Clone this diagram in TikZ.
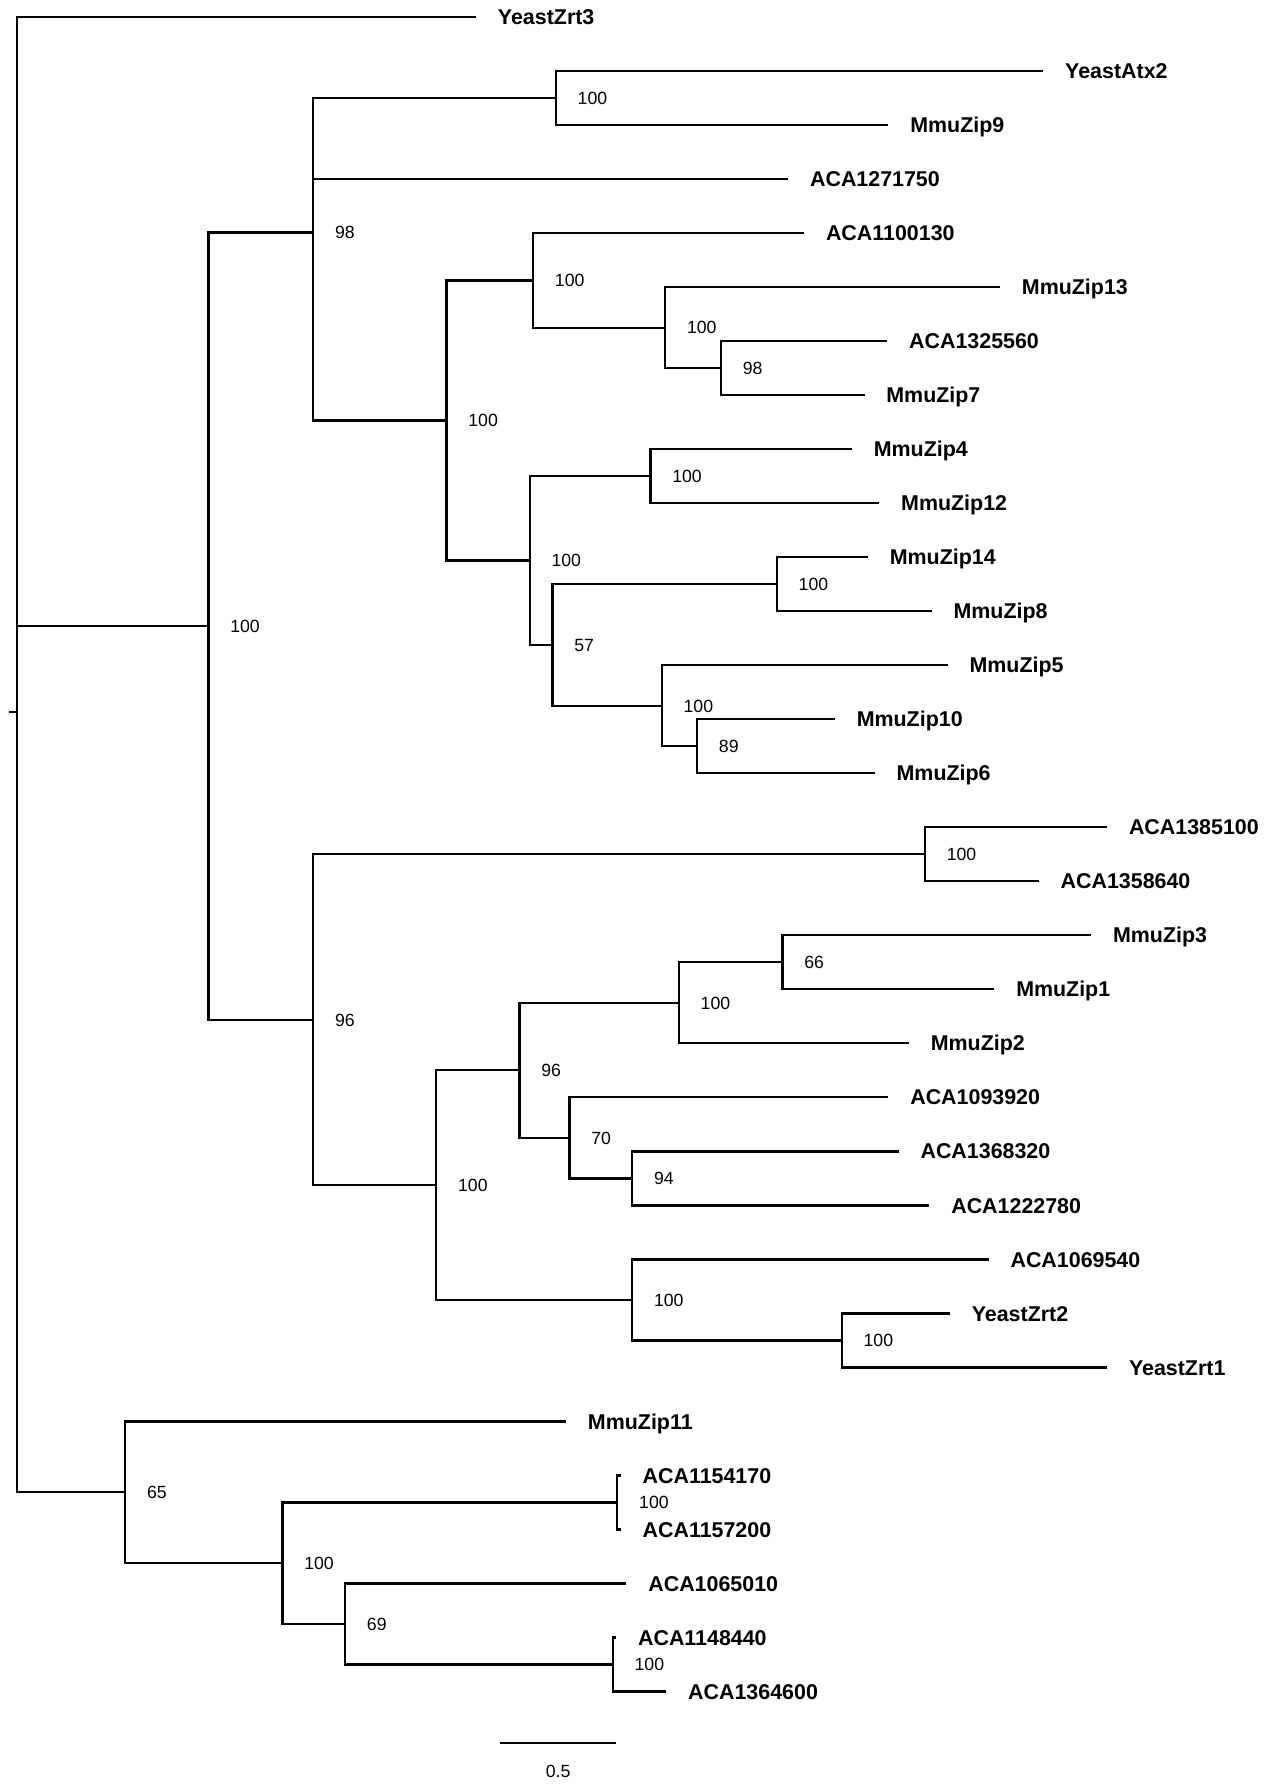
\documentclass[tikz,border=0pt]{standalone}
\usepackage{fontspec}
\setmainfont{Liberation Sans}

\tikzset{
  leaf/.style={anchor=west, inner xsep=19pt, inner ysep=0pt, text height=13.4pt, text depth=0pt,
    font=\bfseries\fontsize{18.8}{20}\selectfont},
  boot/.style={anchor=west, inner xsep=19pt, inner ysep=0pt, text height=11.1pt, text depth=0pt,
    font=\fontsize{15.5}{17}\selectfont},
  branch/.style={line width=2pt}
}

\begin{document}
\begin{tikzpicture}[x=1pt, y=-47.42pt]
\useasboundingbox (0,-0.3163) rectangle (1113,32.75);

% leaves
\node[leaf] (zrt3) at (418,0) {YeastZrt3};
\node[leaf] (atx2) at (916,1) {YeastAtx2};
\node[leaf] (zip9) at (780,2) {MmuZip9};
\node[leaf] (aca1271750) at (692,3) {ACA1271750};
\node[leaf] (aca1100130) at (706,4) {ACA1100130};
\node[leaf] (zip13) at (878,5) {MmuZip13};
\node[leaf] (aca1325560) at (779,6) {ACA1325560};
\node[leaf] (zip7) at (759,7) {MmuZip7};
\node[leaf] (zip4) at (748,8) {MmuZip4};
\node[leaf] (zip12) at (772,9) {MmuZip12};
\node[leaf] (zip14) at (762,10) {MmuZip14};
\node[leaf] (zip8) at (818,11) {MmuZip8};
\node[leaf] (zip5) at (832,12) {MmuZip5};
\node[leaf] (zip10) at (733,13) {MmuZip10};
\node[leaf] (zip6) at (768,14) {MmuZip6};
\node[leaf] (aca1385100) at (972,15) {ACA1385100};
\node[leaf] (aca1358640) at (912,16) {ACA1358640};
\node[leaf] (zip3) at (958,17) {MmuZip3};
\node[leaf] (zip1) at (873,18) {MmuZip1};
\node[leaf] (zip2) at (798,19) {MmuZip2};
\node[leaf] (aca1093920) at (780,20) {ACA1093920};
\node[leaf] (aca1368320) at (789,21) {ACA1368320};
\node[leaf] (aca1222780) at (816,22) {ACA1222780};
\node[leaf] (aca1069540) at (868,23) {ACA1069540};
\node[leaf] (zrt2) at (834,24) {YeastZrt2};
\node[leaf] (zrt1) at (972,25) {YeastZrt1};
\node[leaf] (zip11) at (497,26) {MmuZip11};
\node[leaf] (aca1154170) at (545,27) {ACA1154170};
\node[leaf] (aca1157200) at (545,28) {ACA1157200};
\node[leaf] (aca1065010) at (550,29) {ACA1065010};
\node[leaf] (aca1148440) at (541,30) {ACA1148440};
\node[leaf] (aca1364600) at (585,31) {ACA1364600};

% inner nodes
\coordinate (stub) at (8,12.86);
\coordinate (root) at (15,12.86);
\coordinate (nA) at (183,11.276);
\coordinate (nA1) at (275,3.99);
\coordinate (n3) at (488,1.5);
\coordinate (n4) at (392,7.469);
\coordinate (n5) at (468,4.875);
\coordinate (n7) at (584,5.75);
\coordinate (n8) at (633,6.5);
\coordinate (n6) at (465,10.0625);
\coordinate (n9) at (571,8.5);
\coordinate (n10) at (485,11.625);
\coordinate (n11) at (682,10.5);
\coordinate (n12) at (581,12.75);
\coordinate (n13) at (612,13.5);
\coordinate (nA2) at (275,18.5625);
\coordinate (n14) at (812,15.5);
\coordinate (n15) at (383,21.625);
\coordinate (n16) at (456,19.5);
\coordinate (n17) at (596,18.25);
\coordinate (n18) at (687,17.5);
\coordinate (n19) at (500,20.75);
\coordinate (n20) at (555,21.5);
\coordinate (n21) at (555,23.75);
\coordinate (n22) at (739,24.5);
\coordinate (nB) at (110,27.3125);
\coordinate (n23) at (248,28.625);
\coordinate (n24) at (542,27.5);
\coordinate (n25) at (303,29.75);
\coordinate (n26) at (538,30.5);

% support values
\node[boot] (bA) at (nA) {100};
\node[boot] (bA1) at (nA1) {98};
\node[boot] (b3) at (n3) {100};
\node[boot] (b4) at (n4) {100};
\node[boot] (b5) at (n5) {100};
\node[boot] (b7) at (n7) {100};
\node[boot] (b8) at (n8) {98};
\node[boot] (b6) at (n6) {100};
\node[boot] (b9) at (n9) {100};
\node[boot] (b10) at (n10) {57};
\node[boot] (b11) at (n11) {100};
\node[boot] (b12) at (n12) {100};
\node[boot] (b13) at (n13) {89};
\node[boot] (bA2) at (nA2) {96};
\node[boot] (b14) at (n14) {100};
\node[boot] (b15) at (n15) {100};
\node[boot] (b16) at (n16) {96};
\node[boot] (b17) at (n17) {100};
\node[boot] (b18) at (n18) {66};
\node[boot] (b19) at (n19) {70};
\node[boot] (b20) at (n20) {94};
\node[boot] (b21) at (n21) {100};
\node[boot] (b22) at (n22) {100};
\node[boot] (bB) at (nB) {65};
\node[boot] (b23) at (n23) {100};
\node[boot] (b24) at (n24) {100};
\node[boot] (b25) at (n25) {69};
\node[boot] (b26) at (n26) {100};

% branches
\draw[branch] (stub) -- (root);
\draw[branch] (root) |- (zrt3.west);
\draw[branch] (root) |- (nA);
\draw[branch] (root) |- (nB);
\draw[branch] (nA) |- (nA1);
\draw[branch] (nA) |- (nA2);
\draw[branch] (nA1) |- (n3);
\draw[branch] (nA1) |- (aca1271750.west);
\draw[branch] (nA1) |- (n4);
\draw[branch] (n3) |- (atx2.west);
\draw[branch] (n3) |- (zip9.west);
\draw[branch] (n4) |- (n5);
\draw[branch] (n4) |- (n6);
\draw[branch] (n5) |- (aca1100130.west);
\draw[branch] (n5) |- (n7);
\draw[branch] (n7) |- (zip13.west);
\draw[branch] (n7) |- (n8);
\draw[branch] (n8) |- (aca1325560.west);
\draw[branch] (n8) |- (zip7.west);
\draw[branch] (n6) |- (n9);
\draw[branch] (n6) |- (n10);
\draw[branch] (n9) |- (zip4.west);
\draw[branch] (n9) |- (zip12.west);
\draw[branch] (n10) |- (n11);
\draw[branch] (n10) |- (n12);
\draw[branch] (n11) |- (zip14.west);
\draw[branch] (n11) |- (zip8.west);
\draw[branch] (n12) |- (zip5.west);
\draw[branch] (n12) |- (n13);
\draw[branch] (n13) |- (zip10.west);
\draw[branch] (n13) |- (zip6.west);
\draw[branch] (nA2) |- (n14);
\draw[branch] (nA2) |- (n15);
\draw[branch] (n14) |- (aca1385100.west);
\draw[branch] (n14) |- (aca1358640.west);
\draw[branch] (n15) |- (n16);
\draw[branch] (n15) |- (n21);
\draw[branch] (n16) |- (n17);
\draw[branch] (n16) |- (n19);
\draw[branch] (n17) |- (n18);
\draw[branch] (n17) |- (zip2.west);
\draw[branch] (n18) |- (zip3.west);
\draw[branch] (n18) |- (zip1.west);
\draw[branch] (n19) |- (aca1093920.west);
\draw[branch] (n19) |- (n20);
\draw[branch] (n20) |- (aca1368320.west);
\draw[branch] (n20) |- (aca1222780.west);
\draw[branch] (n21) |- (aca1069540.west);
\draw[branch] (n21) |- (n22);
\draw[branch] (n22) |- (zrt2.west);
\draw[branch] (n22) |- (zrt1.west);
\draw[branch] (nB) |- (zip11.west);
\draw[branch] (nB) |- (n23);
\draw[branch] (n23) |- (n24);
\draw[branch] (n23) |- (n25);
\draw[branch] (n24) |- (aca1154170.west);
\draw[branch] (n24) |- (aca1157200.west);
\draw[branch] (n25) |- (aca1065010.west);
\draw[branch] (n25) |- (n26);
\draw[branch] (n26) |- (aca1148440.west);
\draw[branch] (n26) |- (aca1364600.west);

% scale bar
\coordinate (sbl) at (439,31.95);
\coordinate (sbr) at (541,31.95);
\draw[branch] (sbl) -- (sbr);
\node[boot, anchor=center, inner xsep=0pt] (sblab) at (490,32.48) {0.5};
\end{tikzpicture}
\end{document}
